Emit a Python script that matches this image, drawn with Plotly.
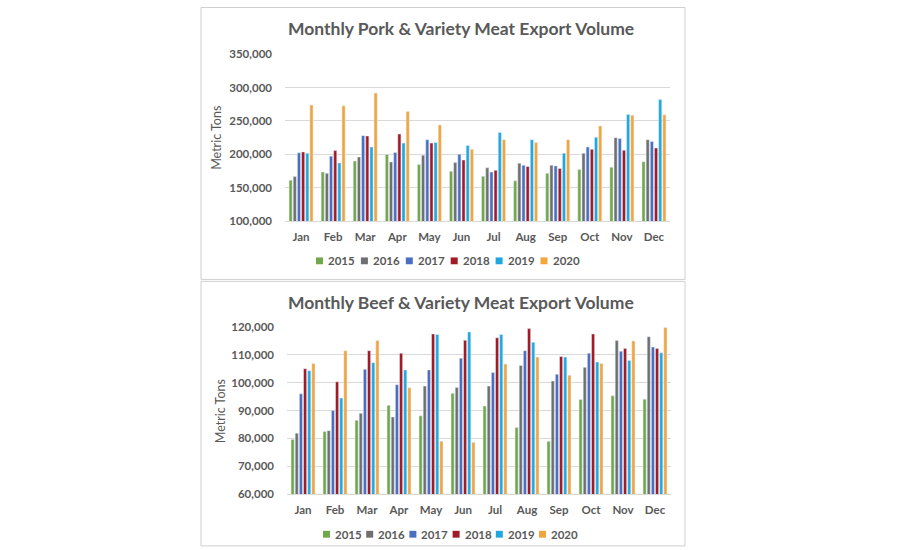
import plotly.graph_objects as go

months = ["Jan", "Feb", "Mar", "Apr", "May", "Jun", "Jul", "Aug", "Sep", "Oct", "Nov", "Dec"]
years = ["2015", "2016", "2017", "2018", "2019", "2020"]
colors = ["#70a84b", "#6f6f6f", "#4a6fc0", "#a11b26", "#1fa8dd", "#f2a53a"]

pork_2015 = [161300, 173500, 190000, 199800, 184700, 174500, 167000, 160300, 171500, 177400, 180800, 189000]
pork_2016 = [166700, 171500, 195900, 188600, 198800, 187600, 179800, 186600, 183700, 201700, 225000, 222000]
pork_2017 = [202200, 197300, 228000, 202700, 221700, 200200, 173500, 183700, 182700, 211000, 223600, 219200]
pork_2018 = [203600, 205600, 227500, 230400, 216800, 191500, 176000, 181800, 178800, 207500, 206000, 209500]
pork_2019 = [201700, 187100, 211000, 216800, 217800, 213400, 232800, 222000, 201700, 225500, 259600, 282000]
pork_2020 = [273700, 272800, 291700, 264000, 244000, 207500, 222000, 217800, 222000, 242600, 258700, 259100]

beef_2015 = [79600, 82500, 86500, 91900, 88100, 96200, 91600, 83900, 79000, 94000, 95300, 94100]
beef_2016 = [81900, 82800, 89000, 87700, 98800, 98300, 98800, 106200, 100600, 105500, 115100, 116500]
beef_2017 = [96000, 90000, 104800, 99300, 104600, 108800, 103700, 111500, 103000, 110600, 111300, 112800]
beef_2018 = [105000, 100300, 111500, 110600, 117500, 115200, 116100, 119400, 109400, 117500, 112300, 112300]
beef_2019 = [104300, 94500, 107200, 104600, 117300, 118200, 117300, 114500, 109200, 107400, 108000, 110700]
beef_2020 = [106900, 111500, 115100, 98200, 79000, 78600, 106700, 109200, 102700, 106900, 115000, 119800]

pork_series = [pork_2015, pork_2016, pork_2017, pork_2018, pork_2019, pork_2020]
beef_series = [beef_2015, beef_2016, beef_2017, beef_2018, beef_2019, beef_2020]

pork_title = "Monthly Pork & Variety Meat Export Volume"
beef_title = "Monthly Beef & Variety Meat Export Volume"
ytitle = "Metric Tons"

W, H = 900, 550
FONT = "Lato"
TXT = "#595959"
GRID = "#d9d9d9"


def px(x):
    return x / W


def py(y):
    return 1 - y / H


fig = go.Figure()
for yr, col, vals in zip(years, colors, pork_series):
    fig.add_trace(go.Bar(x=months, y=vals, name=yr, marker_color=col,
                         xaxis="x", yaxis="y", showlegend=False))
for yr, col, vals in zip(years, colors, beef_series):
    fig.add_trace(go.Bar(x=months, y=vals, name=yr, marker_color=col,
                         xaxis="x2", yaxis="y2", showlegend=False))

axis_font = dict(family=FONT, size=11.5, color=TXT, weight="bold")
xcommon = dict(type="category", showgrid=False, showline=True, linecolor=GRID,
               ticks="", tickfont=axis_font, ticklabelstandoff=5, fixedrange=True)
ycommon = dict(showgrid=True, gridcolor=GRID, gridwidth=1, zeroline=False,
               showline=False, ticks="", tickfont=axis_font, tickformat=",",
               ticklabelstandoff=12, fixedrange=True)

fig.update_layout(
    width=W, height=H,
    margin=dict(l=0, r=0, t=0, b=0),
    paper_bgcolor="white", plot_bgcolor="white",
    barmode="group", bargap=0.22, bargroupgap=0.25,
    xaxis=dict(domain=[px(285), px(670)], anchor="y", **xcommon),
    yaxis=dict(domain=[py(219.3), py(48.3)], anchor="x", range=[100000, 350000],
               dtick=50000, **ycommon),
    xaxis2=dict(domain=[px(287), px(671)], anchor="y2", **xcommon),
    yaxis2=dict(domain=[py(499), py(327.7)], anchor="x2", range=[60000, 120000],
                dtick=10000, **ycommon),
)

# chart boxes
fig.add_shape(type="rect", xref="paper", yref="paper", x0=px(201), x1=px(685),
              y0=py(279), y1=py(0.5), line=dict(color="#cfcfcf", width=1))
fig.add_shape(type="rect", xref="paper", yref="paper", x0=px(201), x1=px(685),
              y0=py(552), y1=py(281), line=dict(color="#cfcfcf", width=1))

# titles
for txt, cy in [(pork_title, 22.5), (beef_title, 302.5)]:
    fig.add_annotation(text=txt, xref="paper", yref="paper", x=px(461), y=py(cy),
                       showarrow=False, xanchor="center", yanchor="middle",
                       font=dict(family=FONT, size=17.5, color=TXT, weight="bold"))

# y axis titles
for cx, cy in [(217, 134), (220, 414)]:
    fig.add_annotation(text=ytitle, xref="paper", yref="paper", x=px(cx), y=py(cy),
                       showarrow=False, textangle=-90, xanchor="center", yanchor="middle",
                       font=dict(family=FONT, size=12.5, color=TXT))

# legends (squares + labels)
for start, step, cy in [(316, 44.9, 260), (323, 43.2, 540)]:
    for i, (yr, col) in enumerate(zip(years, colors)):
        x0 = start + i * step
        fig.add_shape(type="rect", xref="paper", yref="paper",
                      x0=px(x0), x1=px(x0 + 7), y0=py(cy + 3.5), y1=py(cy - 3.5),
                      fillcolor=col, line=dict(width=0))
        fig.add_annotation(text=yr, xref="paper", yref="paper", x=px(x0 + 10), y=py(cy),
                           showarrow=False, xanchor="left", yanchor="middle",
                           font=dict(family=FONT, size=11.5, color=TXT, weight="bold"))

fig.write_html("out.html")
